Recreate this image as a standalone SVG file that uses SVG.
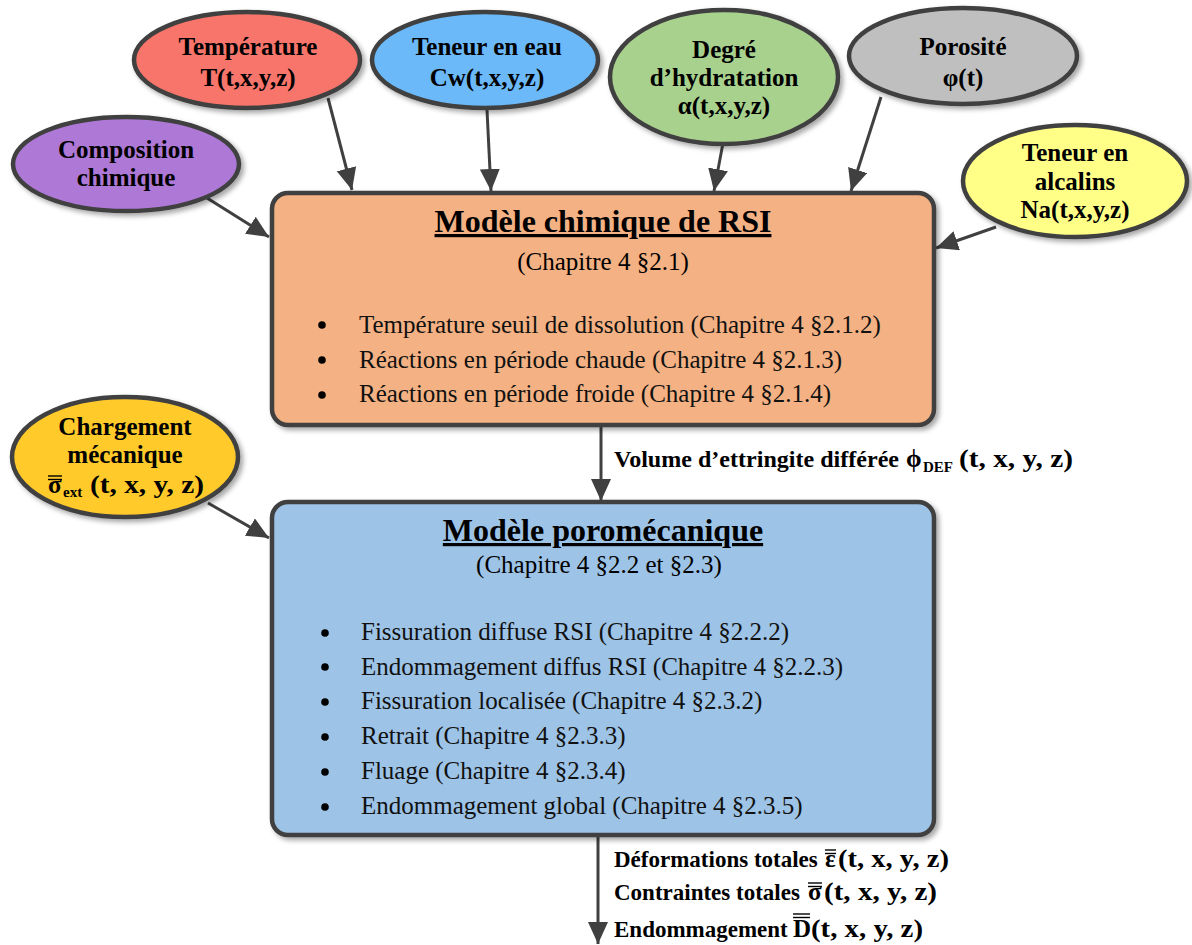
<svg xmlns="http://www.w3.org/2000/svg" width="1192" height="945" viewBox="0 0 1192 945">
<defs>
<filter id="sh" x="-20%" y="-20%" width="140%" height="140%">
<feDropShadow dx="3" dy="3" stdDeviation="2.5" flood-color="#000" flood-opacity="0.35"/>
</filter>
<marker id="ah" markerUnits="userSpaceOnUse" markerWidth="22" markerHeight="20" refX="22" refY="10" orient="auto">
<path d="M0,0 L22,10 L0,20 z" fill="#404040"/>
</marker>
</defs>
<style>
.n{stroke:#404040;stroke-width:4.5;filter:url(#sh)}
.nt{font-family:"Liberation Serif","Times New Roman",serif;font-weight:bold;font-size:25px;fill:#000;text-anchor:middle}
.ttl{font-family:"Liberation Serif","Times New Roman",serif;font-weight:bold;font-size:32px;fill:#000;text-anchor:middle;text-decoration:underline}
.sub{font-family:"Liberation Serif","Times New Roman",serif;font-size:25px;fill:#000;text-anchor:middle}
.bl{font-family:"Liberation Serif","Times New Roman",serif;font-size:25px;fill:#111}
.lb{font-family:"Liberation Serif","Times New Roman",serif;font-weight:bold;font-size:23px;fill:#000}
.mt{font-family:"Liberation Serif","Times New Roman",serif;font-weight:bold;font-size:25px;fill:#000}
.sb{font-family:"Liberation Serif","Times New Roman",serif;font-weight:bold;font-size:15px;fill:#000}
.c{stroke:#404040;stroke-width:3;fill:none;marker-end:url(#ah)}
.ov{stroke:#000;stroke-width:1.4}
</style>

<g id="connectors">
<line class="c" x1="328" y1="98" x2="352" y2="190"/>
<line class="c" x1="487" y1="110" x2="491" y2="191"/>
<line class="c" x1="723" y1="143" x2="714" y2="191"/>
<line class="c" x1="881" y1="97" x2="851" y2="191"/>
<line class="c" x1="996" y1="227" x2="936" y2="248"/>
<line class="c" x1="207" y1="198" x2="269" y2="237"/>
<line class="c" x1="208" y1="503" x2="269" y2="538"/>
<line class="c" x1="601" y1="427" x2="601" y2="501"/>
<line class="c" x1="598" y1="836" x2="598" y2="944"/>
</g>

<g id="node-composition">
<ellipse class="n" cx="126" cy="164" rx="113" ry="47" fill="#AE78D6"/>
<text class="nt" x="126" y="158">Composition</text>
<text class="nt" x="126" y="186">chimique</text>
</g>
<g id="node-temperature">
<ellipse class="n" cx="247" cy="60" rx="113" ry="48" fill="#F7756A"/>
<text class="nt" x="248" y="55">Température</text>
<text class="nt" x="248" y="86">T(t,x,y,z)</text>
</g>
<g id="node-eau">
<ellipse class="n" cx="485" cy="60" rx="113" ry="48" fill="#6CB9F9"/>
<text class="nt" x="487" y="55">Teneur en eau</text>
<text class="nt" x="487" y="86">Cw(t,x,y,z)</text>
</g>
<g id="node-hydratation">
<ellipse class="n" cx="724" cy="77" rx="114" ry="67" fill="#A9D18E"/>
<text class="nt" x="724" y="58">Degré</text>
<text class="nt" x="724" y="86">d’hydratation</text>
<text class="nt" x="724" y="114">α(t,x,y,z)</text>
</g>
<g id="node-porosite">
<ellipse class="n" cx="963" cy="56" rx="114" ry="48" fill="#BFBFBF"/>
<text class="nt" x="963" y="55">Porosité</text>
<text class="nt" x="963" y="86">φ(t)</text>
</g>
<g id="node-alcalins">
<ellipse class="n" cx="1075" cy="181" rx="112" ry="56" fill="#FFFF88"/>
<text class="nt" x="1075" y="161">Teneur en</text>
<text class="nt" x="1075" y="190">alcalins</text>
<text class="nt" x="1075" y="218">Na(t,x,y,z)</text>
</g>
<g id="node-chargement">
<ellipse class="n" cx="125" cy="457" rx="113" ry="60" fill="#FFCA2C"/>
<text class="nt" x="125" y="435">Chargement</text>
<text class="nt" x="125" y="463">mécanique</text>
<text class="mt" x="48" y="493">σ</text>
<line class="ov" x1="48" y1="476" x2="62" y2="476"/>
<line class="ov" x1="48" y1="479.5" x2="62" y2="479.5"/>
<text class="sb" x="63" y="497">ext</text>
<text class="mt" x="90" y="493" textLength="114" lengthAdjust="spacingAndGlyphs">(t, x, y, z)</text>
</g>

<g id="node-rsi">
<rect class="n" x="272" y="193" width="662" height="232" rx="16" fill="#F4B183"/>
<text class="ttl" x="603" y="232">Modèle chimique de RSI</text>
<text class="sub" x="603" y="270">(Chapitre 4 §2.1)</text>
<circle cx="322" cy="325" r="3.8" fill="#000"/>
<circle cx="322" cy="360" r="3.8" fill="#000"/>
<circle cx="322" cy="395" r="3.8" fill="#000"/>
<text class="bl" x="359" y="333">Température seuil de dissolution (Chapitre 4 §2.1.2)</text>
<text class="bl" x="359" y="368">Réactions en période chaude (Chapitre 4 §2.1.3)</text>
<text class="bl" x="359" y="402">Réactions en période froide (Chapitre 4 §2.1.4)</text>
</g>

<g id="node-poro">
<rect class="n" x="272" y="502" width="662" height="333" rx="16" fill="#9DC3E6"/>
<text class="ttl" x="603" y="541">Modèle poromécanique</text>
<text class="sub" x="599" y="573">(Chapitre 4 §2.2 et §2.3)</text>
<circle cx="325" cy="633" r="3.8" fill="#000"/>
<circle cx="325" cy="667" r="3.8" fill="#000"/>
<circle cx="325" cy="702" r="3.8" fill="#000"/>
<circle cx="325" cy="737" r="3.8" fill="#000"/>
<circle cx="325" cy="772" r="3.8" fill="#000"/>
<circle cx="325" cy="807" r="3.8" fill="#000"/>
<text class="bl" x="361" y="640">Fissuration diffuse RSI (Chapitre 4 §2.2.2)</text>
<text class="bl" x="361" y="675">Endommagement diffus RSI (Chapitre 4 §2.2.3)</text>
<text class="bl" x="361" y="709">Fissuration localisée (Chapitre 4 §2.3.2)</text>
<text class="bl" x="361" y="744">Retrait (Chapitre 4 §2.3.3)</text>
<text class="bl" x="361" y="779">Fluage (Chapitre 4 §2.3.4)</text>
<text class="bl" x="361" y="814">Endommagement global (Chapitre 4 §2.3.5)</text>
</g>

<g id="label-volume">
<text class="lb" x="614" y="467" textLength="285" lengthAdjust="spacingAndGlyphs">Volume d’ettringite différée</text>
<text class="mt" x="906" y="467" font-size="29">ϕ</text>
<text class="sb" x="923" y="472">DEF</text>
<text class="mt" x="959" y="467" textLength="114" lengthAdjust="spacingAndGlyphs">(t, x, y, z)</text>
</g>

<g id="label-outputs">
<text class="lb" x="614" y="867">Déformations totales</text>
<text class="mt" x="825" y="867">ε</text>
<line class="ov" x1="825" y1="850" x2="836" y2="850"/>
<line class="ov" x1="825" y1="853.5" x2="836" y2="853.5"/>
<text class="mt" x="838" y="867" textLength="111" lengthAdjust="spacingAndGlyphs">(t, x, y, z)</text>

<text class="lb" x="614" y="900">Contraintes totales</text>
<text class="mt" x="808" y="900">σ</text>
<line class="ov" x1="808" y1="883" x2="822" y2="883"/>
<line class="ov" x1="808" y1="886.5" x2="822" y2="886.5"/>
<text class="mt" x="824" y="900" textLength="113" lengthAdjust="spacingAndGlyphs">(t, x, y, z)</text>

<text class="lb" x="614" y="937">Endommagement</text>
<text class="mt" x="793" y="937">D</text>
<line class="ov" x1="793" y1="914" x2="810" y2="914"/>
<line class="ov" x1="793" y1="917.5" x2="810" y2="917.5"/>
<text class="mt" x="811" y="937" textLength="112" lengthAdjust="spacingAndGlyphs">(t, x, y, z)</text>
</g>
</svg>
